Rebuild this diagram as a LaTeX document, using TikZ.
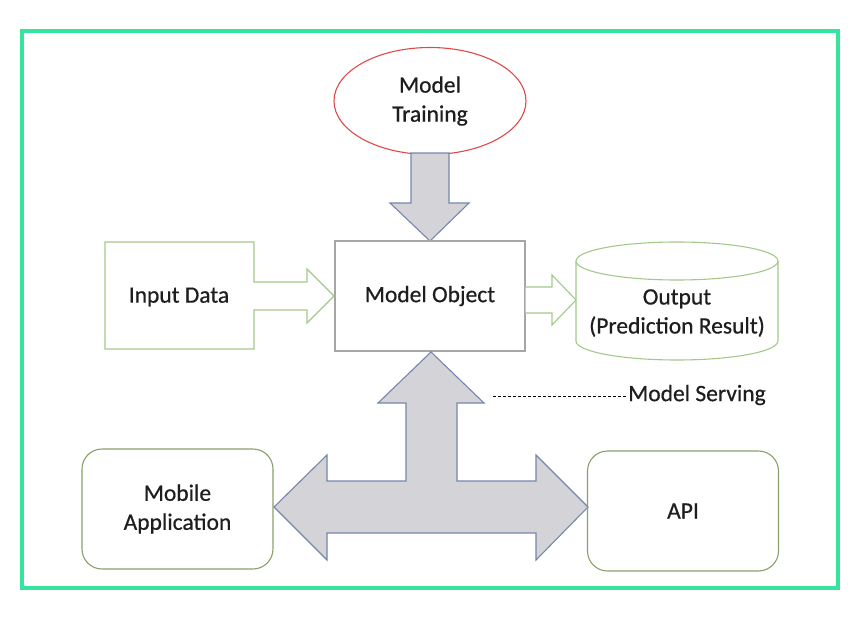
\documentclass[tikz,border=0pt]{standalone}
\usepackage{fontspec}
\setmainfont{Carlito}[FakeBold=0.6]
\usetikzlibrary{shapes.geometric}
\definecolor{framegreen}{HTML}{35E59D}
\definecolor{ellred}{HTML}{E0484A}
\definecolor{objgrey}{HTML}{A6A6A6}
\definecolor{lightgreen}{HTML}{A2C98A}
\definecolor{olivegreen}{HTML}{8AA06A}
\definecolor{arrowfill}{HTML}{D4D4D8}
\definecolor{arrowedge}{HTML}{7586AD}
\definecolor{txt}{HTML}{1E1E1E}
\begin{document}
\begin{tikzpicture}[x=1pt,y=-1pt,
  lbl/.style={font=\fontsize{23.5}{29}\selectfont, align=center, text=txt},
  fatarrow/.style={draw=arrowedge, fill=arrowfill, line width=1.1pt, line join=miter},
  greenarrow/.style={draw=lightgreen, fill=white, line width=1.1pt, line join=miter},
  roundbox/.style={draw=olivegreen, line width=1.1pt, rounded corners=20pt, minimum width=191pt, minimum height=120pt, lbl}]
\useasboundingbox (0,0) rectangle (863,618);
\draw[framegreen, line width=4pt] (22,31) rectangle (838,588);

% Model Training
\node[draw=ellred, line width=1.1pt, ellipse, minimum width=192pt, minimum height=107pt, inner sep=0pt, lbl] (train) at (430,101) {Model\\Training};

% down arrow
\draw[fatarrow] (411,153) -- (449,153) -- (449,203) -- (469,203) -- (430,241) -- (390,203) -- (411,203) -- cycle;

% Model Object
\node[draw=objgrey, line width=1.1pt, minimum width=190pt, minimum height=110pt, lbl] (obj) at (430,296) {Model Object};

% Input Data with arrow
\draw[greenarrow] (105,242) -- (254,242) -- (254,282) -- (307,282) -- (307,269) -- (334,296) -- (307,323) -- (307,310) -- (254,310) -- (254,349) -- (105,349) -- cycle;
\node[lbl] (input) at (179,297) {Input Data};

% output arrow
\draw[greenarrow] (obj.east |- 0,287) -- (552,287) -- (552,275) -- (576,300) -- (552,325) -- (552,313) -- (obj.east |- 0,313);

% cylinder
\draw[draw=lightgreen, fill=white, line width=1.1pt] (576,261) -- (576,341) arc[start angle=180, end angle=0, x radius=101, y radius=19] -- (778,261);
\draw[draw=lightgreen, fill=white, line width=1.1pt] (677,261) ellipse [x radius=101, y radius=19];
\node[lbl] (out) at (677,313) {Output\\(Prediction Result)};

% T arrow
\draw[fatarrow] (431,352) -- (484,403) -- (457,403) -- (457,481) -- (536,481) -- (536,455) -- (588,507) -- (536,560) -- (536,533) -- (327,533) -- (327,560) -- (274,507) -- (327,455) -- (327,481) -- (406,481) -- (406,403) -- (378,403) -- cycle;

% Model Serving
\node[lbl, anchor=west, inner sep=2pt] (serving) at (626,395) {Model Serving};
\coordinate (servstart) at (493,396);
\draw[black, line width=0.9pt, dash pattern=on 3pt off 2pt] (servstart) -- (servstart -| serving.west);

% bottom boxes
\node[roundbox] (mobile) at (177.5,509) {Mobile\\Application};
\node[roundbox] (api) at (683,511) {API};
\end{tikzpicture}
\end{document}
